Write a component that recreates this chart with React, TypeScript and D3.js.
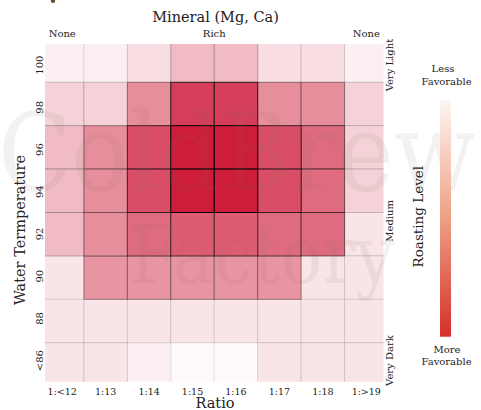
import React from "react";
import * as d3 from "d3";

const ratios = ["1:<12", "1:13", "1:14", "1:15", "1:16", "1:17", "1:18", "1:>19"];
const temps = ["100", "98", "96", "94", "92", "90", "88", "<86"];
const mineralLabels = ["None", "Rich", "None"];
const roastLabels = ["Very Light", "Medium", "Very Dark"];
const watermark = ["ColdBrew", "Factory"];

const row100 = [0.07, 0.07, 0.15, 0.3, 0.3, 0.15, 0.15, 0.07];
const row98 = [0.2, 0.2, 0.5, 0.85, 0.85, 0.5, 0.5, 0.2];
const row96 = [0.3, 0.5, 0.78, 1.0, 1.0, 0.78, 0.65, 0.2];
const row94 = [0.3, 0.5, 0.78, 1.0, 1.0, 0.78, 0.65, 0.2];
const row92 = [0.3, 0.5, 0.65, 0.72, 0.72, 0.65, 0.65, 0.12];
const row90 = [0.12, 0.47, 0.47, 0.47, 0.47, 0.47, 0.12, 0.12];
const row88 = [0.12, 0.12, 0.12, 0.12, 0.12, 0.12, 0.12, 0.12];
const row86 = [0.12, 0.12, 0.07, 0.02, 0.02, 0.12, 0.12, 0.12];
const rows = [row100, row98, row96, row94, row92, row90, row88, row86];

const W = 481;
const H = 410;
const FONT = "DejaVu Serif";

export default function App() {
  const x = d3.scaleBand<string>().domain(ratios).range([40.5, 388]);
  const y = d3.scaleBand<string>().domain(temps).range([38.9, 386.1]);
  const yLab = d3.scaleBand<string>().domain(temps).range([44, 381.7]);
  const color = d3.scaleLinear<string>().domain([0, 1]).range(["#ffffff", "#ce1c3b"]).interpolate(d3.interpolateRgb);
  const strokeOp = (v: number) => 0.07 + 0.85 * Math.pow(v, 1.4);

  const cells = rows
    .flatMap((r, i) => r.map((v, j) => ({ t: temps[i], r: ratios[j], v })))
    .sort((a, b) => a.v - b.v);

  const mineralX = [x(ratios[0])! + x.bandwidth() / 2, (x(ratios[3])! + x(ratios[4])! + x.bandwidth()) / 2, x(ratios[7])! + x.bandwidth() / 2];
  const roastY = [yLab(temps[0])! + yLab.bandwidth() / 2, yLab(temps[4])! + 8, yLab(temps[7])! + yLab.bandwidth() / 2];

  const cbY = d3.scaleLinear().domain([0, 1]).range([100, 336.7]);

  return (
    <svg width={W} height={H} style={{ position: "absolute", left: 0, top: 0 }} fontFamily={FONT}>
      <defs>
        <clipPath id="plotclip">
          <rect x={45} y={44} width={338.5} height={337.7} />
        </clipPath>
        <linearGradient id="cbgrad" x1="0" y1="0" x2="0" y2="1">
          <stop offset="0" stopColor="#fef6f3" />
          <stop offset="0.5" stopColor="#eda083" />
          <stop offset="1" stopColor="#d5302a" />
        </linearGradient>
      </defs>
      <rect width={W} height={H} fill="#fff" />
      <ellipse cx={53} cy={1} rx={2.2} ry={2} fill="#6b4a2a" />
      <g clipPath="url(#plotclip)">
        {cells.map((c, k) => (
          <rect
            key={k}
            x={x(c.r)}
            y={y(c.t)}
            width={x.bandwidth()}
            height={y.bandwidth()}
            fill={color(c.v)}
            stroke="#000"
            strokeOpacity={strokeOp(c.v)}
            strokeWidth={1}
          />
        ))}
      </g>
      <g fill="#806a58" fillOpacity={0.09} fontFamily="DejaVu Serif">
        <text x={237} y={190} fontSize={108} textAnchor="middle" textLength={478} lengthAdjust="spacingAndGlyphs">{watermark[0]}</text>
        <text x={262} y={283} fontSize={80} textAnchor="middle" textLength={265} lengthAdjust="spacingAndGlyphs">{watermark[1]}</text>
      </g>
      <text x={215.5} y={22} fontSize={14.5} textAnchor="middle" fill="#222">Mineral (Mg, Ca)</text>
      {mineralLabels.map((m, i) => (
        <text key={i} x={mineralX[i]} y={36.5} fontSize={10} textAnchor="middle" fill="#222">{m}</text>
      ))}
      {temps.map((t) => (
        <text key={t} transform={`translate(43,${yLab(t)! + yLab.bandwidth() / 2}) rotate(-90)`} fontSize={10} textAnchor="middle" fill="#222">{t}</text>
      ))}
      {ratios.map((r) => (
        <text key={r} x={x(r)! + x.bandwidth() / 2} y={395} fontSize={9.5} textAnchor="middle" fill="#222">{r}</text>
      ))}
      <text x={215} y={408} fontSize={14.5} textAnchor="middle" fill="#222">Ratio</text>
      <text transform={`translate(25,230) rotate(-90)`} fontSize={14.5} textAnchor="middle" fill="#222">Water Termperature</text>
      {roastLabels.map((r, i) => (
        <text key={r} transform={`translate(393,${roastY[i]}) rotate(-90)`} fontSize={10} textAnchor="middle" fill="#222">{r}</text>
      ))}
      <rect x={440} y={cbY(0)} width={11} height={cbY(1) - cbY(0)} fill="url(#cbgrad)" />
      <text fontSize={10} textAnchor="middle" fill="#222">
        <tspan x={443} y={72}>Less</tspan>
        <tspan x={446.5} y={85.3}>Favorable</tspan>
      </text>
      <text fontSize={10} textAnchor="middle" fill="#222">
        <tspan x={447} y={352.7}>More</tspan>
        <tspan x={446.5} y={365}>Favorable</tspan>
      </text>
      <text transform={`translate(423,216.7) rotate(-90)`} fontSize={13.5} textAnchor="middle" fill="#222">Roasting Level</text>
    </svg>
  );
}
